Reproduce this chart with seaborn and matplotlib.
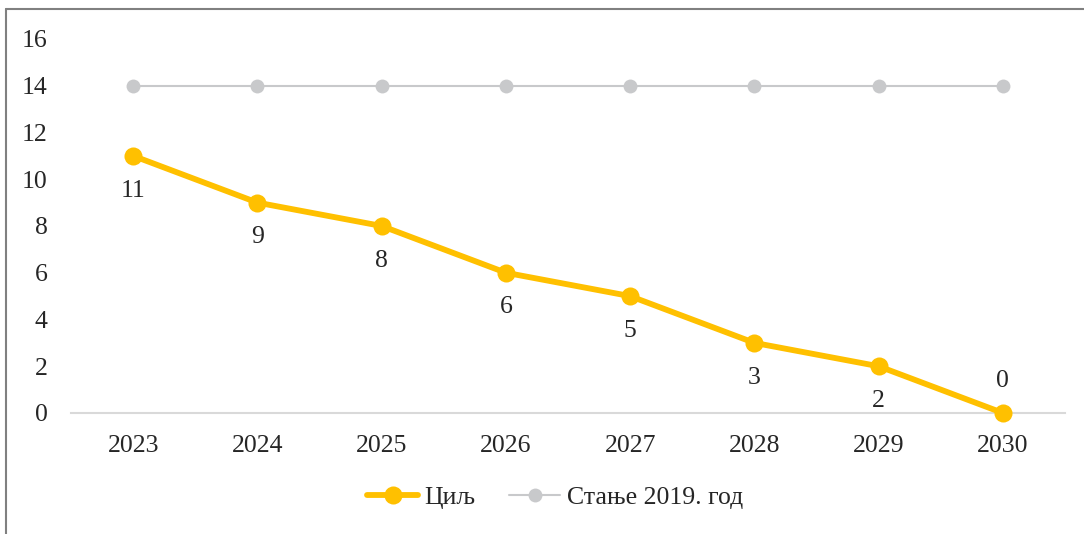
import matplotlib
matplotlib.use("Agg")
import matplotlib.pyplot as plt
from matplotlib.lines import Line2D
import seaborn as sns
import pandas as pd

years = ["2023", "2024", "2025", "2026", "2027", "2028", "2029", "2030"]
target = [11, 9, 8, 6, 5, 3, 2, 0]
baseline = [14, 14, 14, 14, 14, 14, 14, 14]
target_name = "Циљ"
baseline_name = "Стање 2019. год"
y_ticks = [0, 2, 4, 6, 8, 10, 12, 14, 16]

sns.set_theme(style="white")
plt.rcParams["font.family"] = ["Liberation Serif", "DejaVu Serif"]

YELLOW = "#FFC000"
GREY = "#C8C9CB"
TEXT = "#262626"
FS = 18.5

df = pd.DataFrame({"year": years, "target": target, "baseline": baseline})

fig = plt.figure(figsize=(10.84, 5.34), dpi=100)
ax = fig.add_axes([0.0655, 0.2266, 0.917, 0.7004])

sns.lineplot(data=df, x="year", y="baseline", ax=ax, color=GREY, linewidth=1.5,
             marker="o", markersize=10, markeredgewidth=0, sort=False)
sns.lineplot(data=df, x="year", y="target", ax=ax, color=YELLOW, linewidth=4.2,
             marker="o", markersize=13, markeredgewidth=0, sort=False,
             solid_capstyle="round")
for ln in ax.lines:
    ln.set_clip_on(False)

ax.set_xlim(-0.5, len(years) - 0.5)
ax.set_ylim(0, 16)
ax.set_yticks(y_ticks)
ax.set_xlabel("")
ax.set_ylabel("")
ax.grid(False)
for side in ["top", "right", "left"]:
    ax.spines[side].set_visible(False)
ax.spines["bottom"].set_color("#D9D9D9")
ax.spines["bottom"].set_linewidth(1.5)
ax.spines["bottom"].set_zorder(0)
ax.tick_params(axis="both", length=0, labelsize=FS, labelcolor=TEXT)
ax.tick_params(axis="y", pad=17)
ax.tick_params(axis="x", pad=16)

# value labels under each target point (above when sitting on the axis)
for i, v in enumerate(target):
    dy = 23 if v == 0 else -25
    ax.annotate(str(v), (i, v), xytext=(0, dy), textcoords="offset points",
                ha="center", va="center", fontsize=FS, color=TEXT)

handles = [
    Line2D([], [], color=YELLOW, linewidth=4.2, marker="o", markersize=13,
           markeredgewidth=0, solid_capstyle="round"),
    Line2D([], [], color=GREY, linewidth=1.5, marker="o", markersize=10,
           markeredgewidth=0),
]
fig.legend(handles, [target_name, baseline_name], loc="center",
           bbox_to_anchor=(0.512, 0.069), ncol=2, frameon=False,
           fontsize=FS, handlelength=2.0, handletextpad=0.25,
           columnspacing=1.3, labelcolor=TEXT)

# chart frame edges
fig.add_artist(Line2D([0.0055, 1.0], [0.983, 0.983], transform=fig.transFigure,
                      color="#808080", linewidth=1.5))
fig.add_artist(Line2D([0.0055, 0.0055], [0.0, 0.983], transform=fig.transFigure,
                      color="#808080", linewidth=1.5))

fig.savefig("out.png", dpi=100)
